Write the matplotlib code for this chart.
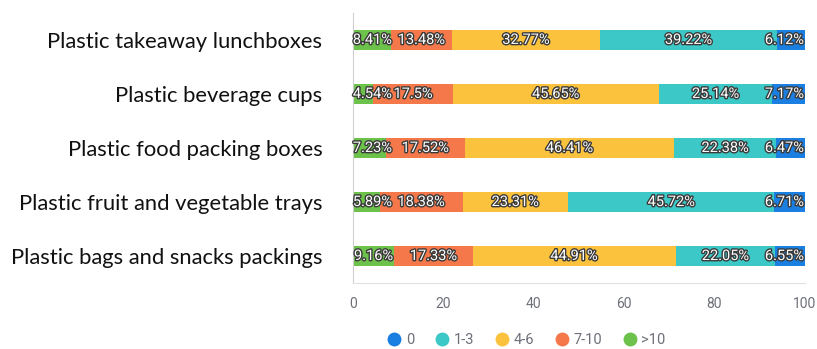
import matplotlib.pyplot as plt
import matplotlib.patheffects as pe
from matplotlib.lines import Line2D

# survey shares (%) per packaging type, stacked left to right: >10, 7-10, 4-6, 1-3, 0
categories = ['Plastic takeaway lunchboxes', 'Plastic beverage cups',
              'Plastic food packing boxes', 'Plastic fruit and vegetable trays',
              'Plastic bags and snacks packings']
gt10 = [8.41, 4.54, 7.23, 5.89, 9.16]
s7_10 = [13.48, 17.5, 17.52, 18.38, 17.33]
s4_6 = [32.77, 45.65, 46.41, 23.31, 44.91]
s1_3 = [39.22, 25.14, 22.38, 45.72, 22.05]
s0 = [6.12, 7.17, 6.47, 6.71, 6.55]

series = [('>10', gt10, '#6cc24a'),
          ('7-10', s7_10, '#f5784a'),
          ('4-6', s4_6, '#fbc23e'),
          ('1-3', s1_3, '#3cc8c6'),
          ('0', s0, '#1a7fe0')]

fig = plt.figure(figsize=(8.17, 3.49), dpi=100)
ax = fig.add_axes([0.432, 0.189, 0.553, 0.774])

y = list(range(len(categories)))
left = [0.0] * len(categories)
for name, vals, col in series:
    ax.barh(y, vals, left=left, height=0.37, color=col, edgecolor='none')
    for i, v in enumerate(vals):
        # keep labels of thin end segments inside the plot area
        cx = min(max(left[i] + v / 2, 4.3), 95.5)
        ax.text(cx, i, f'{v:g}%', ha='center', va='center', fontsize=10.5,
                family='Roboto', color='white',
                path_effects=[pe.withStroke(linewidth=2, foreground='#3a3a3a')])
    left = [a + b for a, b in zip(left, vals)]

ax.set_xlim(0, 100)
ax.set_ylim(4.5, -0.5)
ax.set_xticks([0, 20, 40, 60, 80, 100])
ax.tick_params(axis='x', length=0, pad=10, labelsize=10, labelcolor='#6e7079')
ax.set_yticks(y)
ax.set_yticklabels(categories, fontsize=15.8, family='Lato', color='#111111')
ax.tick_params(axis='y', length=0, pad=22)
for lbl in ax.get_xticklabels():
    lbl.set_family('Roboto')
for lbl in ax.get_yticklabels():
    lbl.set_va('center_baseline')

for side in ['top', 'right']:
    ax.spines[side].set_visible(False)
ax.spines['left'].set_color('#d0d0d0')
ax.spines['bottom'].set_color('#e0e0e0')

handles = [Line2D([], [], marker='o', linestyle='none', markersize=10,
                  markerfacecolor=c, markeredgecolor='none')
           for _, _, c in reversed(series)]
labels = [n for n, _, _ in reversed(series)]
leg = fig.legend(handles, labels, loc='center left', bbox_to_anchor=(0.456, 0.025),
                 ncol=5, frameon=False, handletextpad=0.2, columnspacing=1.3,
                 handlelength=1.2, prop={'family': 'Roboto', 'size': 10.5})
for t in leg.get_texts():
    t.set_color('#6e7079')

fig.savefig('out.png', dpi=100)
